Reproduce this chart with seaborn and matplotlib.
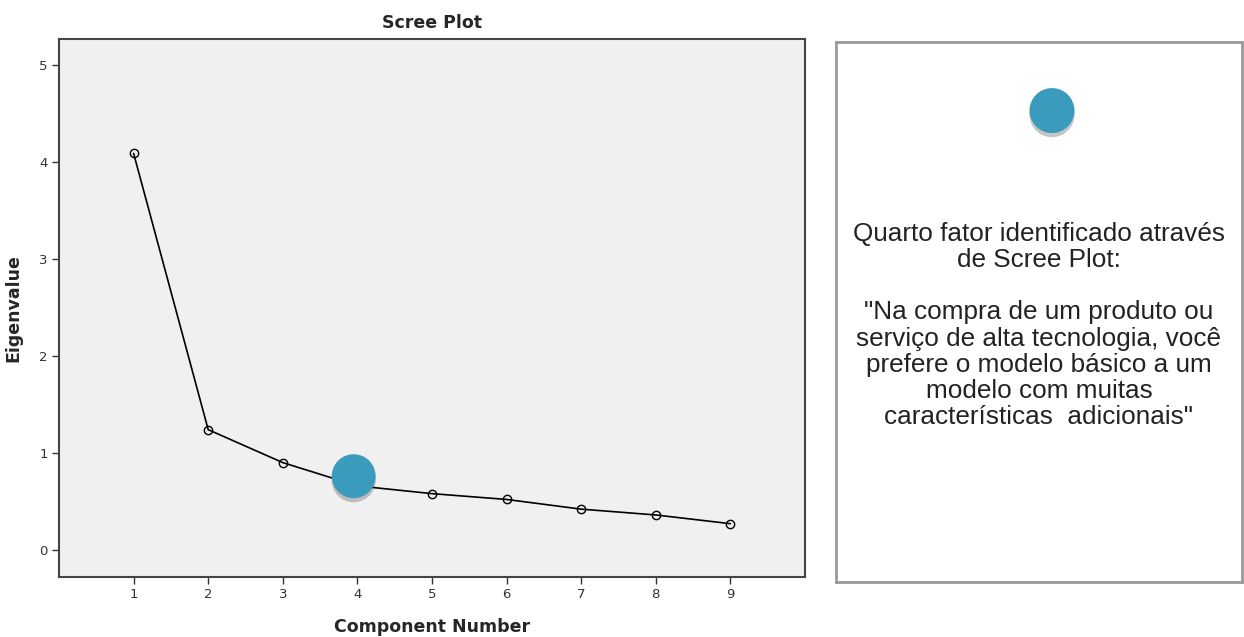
import matplotlib
matplotlib.use('Agg')
import matplotlib.pyplot as plt
import matplotlib.patheffects as pe
import seaborn as sns
import pandas as pd

# scree plot values
components = [1, 2, 3, 4, 5, 6, 7, 8, 9]
eigenvalues = [4.09, 1.24, 0.90, 0.66, 0.58, 0.52, 0.42, 0.36, 0.27]
y_ticks = [0, 1, 2, 3, 4, 5]

# blue marker placed on the fourth component
highlight_x = [3.95]
highlight_y = [0.76]

note_text = ("Quarto fator identificado através\nde Scree Plot:\n\n"
             "\"Na compra de um produto ou\nserviço de alta tecnologia, você\n"
             "prefere o modelo básico a um\nmodelo com muitas\n"
             "características  adicionais\"")

df = pd.DataFrame({'Component': components, 'Eigenvalue': eigenvalues})

sns.set_style('white')
plt.rcParams['font.family'] = ['DejaVu Sans']

fig = plt.figure(figsize=(12.44, 6.37), dpi=100)
ax = fig.add_axes([59 / 1244, 60 / 637, 746 / 1244, 538 / 637])
ax.set_facecolor('#f0f0f0')

sns.lineplot(data=df, x='Component', y='Eigenvalue', ax=ax, color='black',
             linewidth=1.2, marker='o', markersize=6, markerfacecolor='none',
             markeredgecolor='black', markeredgewidth=1.0)

blue = '#3b9bbd'
shadow = [pe.SimplePatchShadow(offset=(0, -3), shadow_rgbFace='#444444', alpha=0.3),
          pe.Normal()]
ax.scatter(highlight_x, highlight_y, s=1000, color=blue, edgecolor='none',
           zorder=5, path_effects=shadow)

ax.set_xlim(0, 10)
ax.set_ylim(-0.28, 5.27)
ax.set_xticks(components)
ax.set_yticks(y_ticks)
ax.tick_params(axis='both', direction='out', length=5, width=1, color='#333333',
               labelsize=9.5, labelcolor='#333333', left=True, bottom=True, pad=3)
for s in ax.spines.values():
    s.set_color('#444444')
    s.set_linewidth(1.5)

ax.set_title('Scree Plot', fontsize=12.5, fontweight='bold', pad=8)
ax.set_xlabel('Component Number', fontsize=12.5, fontweight='bold', labelpad=12)
ax.set_ylabel('Eigenvalue', fontsize=12.5, fontweight='bold', labelpad=12)

# note box on the right
ax2 = fig.add_axes([836 / 1244, 55 / 637, 406 / 1244, 540 / 637])
ax2.set_xlim(0, 1)
ax2.set_ylim(0, 1)
ax2.set_xticks([])
ax2.set_yticks([])
for s in ax2.spines.values():
    s.set_color('#999999')
    s.set_linewidth(2)

ax2.scatter([0.532], [0.873], s=1050, color=blue, edgecolor='none', zorder=5,
            path_effects=shadow)
ax2.text(0.5, 0.475, note_text, ha='center', va='center', fontsize=18.8,
         family=['Liberation Sans', 'DejaVu Sans'], linespacing=1.11,
         color='#222222')

fig.savefig('out.png', dpi=100)
